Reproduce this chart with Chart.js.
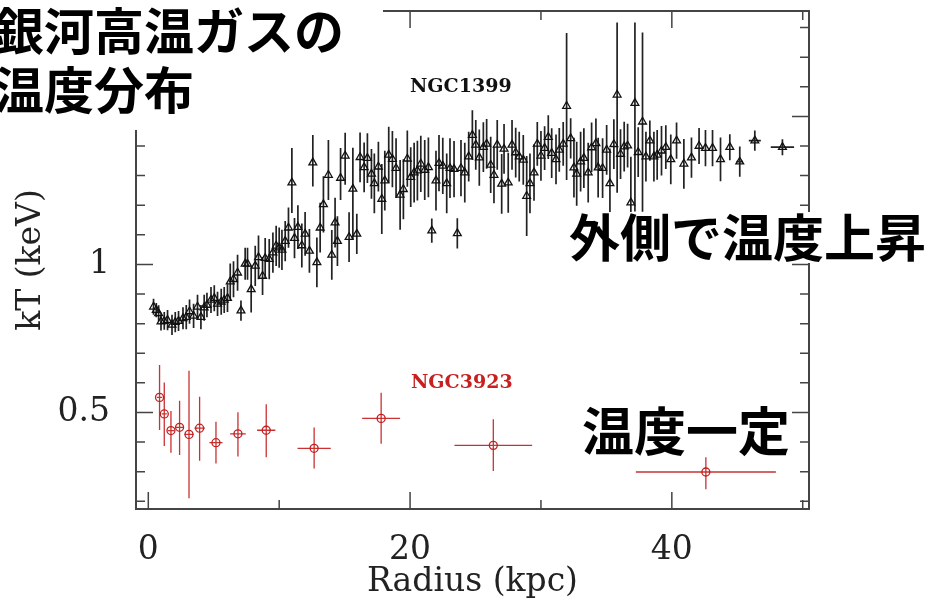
<!DOCTYPE html>
<html lang="ja">
<head>
<meta charset="utf-8">
<title>銀河高温ガスの温度分布</title>
<script src="https://cdn.jsdelivr.net/npm/chart.js@4.4.1/dist/chart.umd.min.js"></script>
<style>
  html, body { margin: 0; padding: 0; background: #fff; }
  #wrap { position: relative; width: 936px; height: 607px; }
</style>
</head>
<body>
<div id="wrap"><canvas id="chart"></canvas></div>
<script>
// NGC1399: radius (kpc), kT (keV), lower / upper errors (keV), radial half-width (kpc)
const radius1399 = [
  0.40, 0.61, 0.79, 0.97, 1.22, 1.47, 1.81, 2.06, 2.31, 2.65,
  2.90, 3.15, 3.46, 3.76, 4.02, 4.27, 4.48, 4.79, 5.04, 5.29,
  5.57, 5.80, 6.05, 6.26, 6.51, 6.82, 7.08, 7.40, 7.58, 7.86,
  8.17, 8.42, 8.73, 8.93, 9.24, 9.52, 9.77, 10.00, 10.21, 10.46,
  10.71, 10.97, 11.17, 11.43, 11.73, 11.98, 12.31, 12.57, 12.88, 13.13,
  13.38, 13.76, 14.02, 14.27, 14.45, 14.69, 15.04, 15.34, 15.63, 15.93,
  16.18, 16.49, 16.74, 17.05, 17.27, 17.58, 17.84, 18.07, 18.37, 18.65,
  18.93, 19.24, 19.49, 19.79, 20.05, 20.31, 20.56, 20.82, 21.12, 21.40,
  21.66, 21.98, 22.21, 22.50, 22.80, 23.05, 23.36, 23.61, 23.89, 24.18,
  24.48, 24.76, 25.02, 25.29, 25.60, 25.85, 26.16, 26.41, 26.66, 27.00,
  27.18, 27.50, 27.79, 28.07, 28.34, 28.65, 28.91, 29.16, 29.47, 29.72,
  30.00, 30.28, 30.56, 30.82, 31.15, 31.40, 31.70, 31.96, 32.27, 32.52,
  32.73, 33.03, 33.28, 33.61, 33.87, 34.20, 34.37, 34.71, 35.02, 35.27,
  35.57, 35.82, 36.08, 36.36, 36.62, 36.87, 37.18, 37.43, 37.76, 38.02,
  38.32, 38.63, 38.88, 39.21, 39.54, 39.92, 40.36, 40.92, 41.50, 42.08,
  42.57, 43.11, 43.72, 44.43, 45.19, 46.34, 48.45
];
const kT1399 = [
  0.857, 0.846, 0.835, 0.807, 0.809, 0.812, 0.796, 0.805, 0.809, 0.818,
  0.822, 0.841, 0.826, 0.857, 0.822, 0.854, 0.863, 0.880, 0.886, 0.867,
  0.874, 0.880, 0.886, 0.942, 0.950, 0.972, 0.844, 1.002, 1.002, 0.916,
  0.995, 1.024, 0.961, 1.021, 1.018, 1.040, 1.063, 1.057, 1.049, 1.079,
  1.124, 1.276, 1.089, 1.126, 1.064, 1.103, 1.046, 1.344, 1.007, 1.124,
  1.203, 1.302, 1.032, 1.141, 1.079, 1.292, 1.367, 1.092, 1.255, 1.103,
  1.362, 1.328, 1.359, 1.306, 1.274, 1.330, 1.221, 1.283, 1.370, 1.356,
  1.325, 1.235, 1.254, 1.357, 1.295, 1.310, 1.317, 1.340, 1.319, 1.328,
  1.114, 1.283, 1.342, 1.333, 1.274, 1.325, 1.322, 1.105, 1.325, 1.310,
  1.364, 1.437, 1.404, 1.361, 1.396, 1.407, 1.336, 1.302, 1.404, 1.272,
  1.390, 1.276, 1.404, 1.378, 1.364, 1.353, 1.231, 1.274, 1.310, 1.407,
  1.367, 1.393, 1.430, 1.376, 1.355, 1.387, 1.407, 1.535, 1.426, 1.327,
  1.306, 1.347, 1.359, 1.310, 1.395, 1.409, 1.327, 1.325, 1.387, 1.274,
  1.406, 1.573, 1.373, 1.398, 1.401, 1.209, 1.545, 1.379, 1.482, 1.364,
  1.418, 1.364, 1.370, 1.384, 1.396, 1.355, 1.418, 1.340, 1.361, 1.400,
  1.393, 1.393, 1.355, 1.396, 1.347, 1.418, 1.396
];
const errLo1399 = [
  0.027, 0.024, 0.027, 0.030, 0.030, 0.034, 0.034, 0.034, 0.034, 0.037,
  0.041, 0.041, 0.041, 0.041, 0.041, 0.044, 0.041, 0.044, 0.044, 0.041,
  0.044, 0.044, 0.047, 0.061, 0.061, 0.061, 0.034, 0.054, 0.054, 0.078,
  0.068, 0.074, 0.064, 0.068, 0.068, 0.068, 0.068, 0.068, 0.068, 0.068,
  0.068, 0.102, 0.068, 0.074, 0.074, 0.074, 0.074, 0.081, 0.084, 0.084,
  0.095, 0.084, 0.084, 0.084, 0.084, 0.074, 0.098, 0.084, 0.172, 0.068,
  0.084, 0.084, 0.084, 0.084, 0.101, 0.084, 0.118, 0.101, 0.095, 0.095,
  0.101, 0.118, 0.101, 0.095, 0.101, 0.101, 0.101, 0.095, 0.101, 0.101,
  0.041, 0.101, 0.095, 0.095, 0.101, 0.101, 0.095, 0.051, 0.095, 0.101,
  0.084, 0.084, 0.084, 0.095, 0.084, 0.084, 0.095, 0.095, 0.084, 0.101,
  0.084, 0.101, 0.084, 0.084, 0.084, 0.084, 0.135, 0.101, 0.095, 0.074,
  0.084, 0.074, 0.074, 0.084, 0.084, 0.074, 0.074, 0.250, 0.068, 0.101,
  0.108, 0.101, 0.101, 0.101, 0.084, 0.084, 0.101, 0.101, 0.084, 0.118,
  0.084, 0.331, 0.084, 0.084, 0.074, 0.060, 0.366, 0.084, 0.304, 0.084,
  0.068, 0.084, 0.084, 0.084, 0.074, 0.084, 0.061, 0.084, 0.068, 0.061,
  0.061, 0.061, 0.074, 0.044, 0.051, 0.034, 0.027
];
const errHi1399 = [
  0.027, 0.024, 0.027, 0.030, 0.030, 0.034, 0.034, 0.034, 0.034, 0.037,
  0.041, 0.041, 0.041, 0.041, 0.041, 0.044, 0.041, 0.044, 0.044, 0.041,
  0.044, 0.044, 0.047, 0.061, 0.061, 0.061, 0.034, 0.054, 0.054, 0.078,
  0.068, 0.074, 0.064, 0.068, 0.068, 0.068, 0.068, 0.068, 0.068, 0.068,
  0.068, 0.117, 0.068, 0.074, 0.074, 0.074, 0.074, 0.093, 0.084, 0.084,
  0.095, 0.118, 0.084, 0.084, 0.084, 0.101, 0.078, 0.084, 0.139, 0.068,
  0.084, 0.084, 0.084, 0.084, 0.101, 0.084, 0.118, 0.101, 0.095, 0.095,
  0.101, 0.118, 0.101, 0.095, 0.101, 0.101, 0.101, 0.095, 0.101, 0.101,
  0.041, 0.101, 0.095, 0.095, 0.101, 0.101, 0.095, 0.051, 0.095, 0.101,
  0.084, 0.084, 0.084, 0.095, 0.084, 0.084, 0.095, 0.095, 0.084, 0.101,
  0.084, 0.101, 0.084, 0.084, 0.084, 0.084, 0.135, 0.101, 0.095, 0.074,
  0.084, 0.074, 0.074, 0.084, 0.084, 0.074, 0.074, 0.247, 0.068, 0.101,
  0.108, 0.101, 0.101, 0.101, 0.084, 0.084, 0.101, 0.101, 0.084, 0.118,
  0.084, 0.244, 0.084, 0.084, 0.074, 0.155, 0.272, 0.084, 0.301, 0.084,
  0.068, 0.084, 0.084, 0.084, 0.074, 0.084, 0.061, 0.084, 0.068, 0.061,
  0.061, 0.061, 0.074, 0.044, 0.051, 0.034, 0.027
];
const xErr1399 = [
  0, 0, 0, 0, 0, 0, 0, 0, 0, 0,  0, 0, 0, 0, 0, 0, 0, 0, 0, 0,
  0, 0, 0, 0, 0, 0, 0, 0, 0, 0,  0, 0, 0, 0, 0, 0, 0, 0, 0, 0,
  0, 0, 0, 0, 0, 0, 0, 0, 0, 0,  0, 0, 0, 0, 0, 0, 0, 0, 0, 0,
  0, 0, 0, 0, 0, 0, 0, 0, 0, 0,  0, 0, 0, 0, 0, 0, 0, 0, 0, 0,
  0, 0, 0, 0, 0, 0, 0, 0, 0, 0,  0, 0, 0, 0, 0, 0, 0, 0, 0, 0,
  0, 0, 0, 0, 0, 0, 0, 0, 0, 0,  0, 0, 0, 0, 0, 0, 0, 0, 0, 0,
  0, 0, 0, 0, 0, 0, 0, 0, 0, 0,  0, 0, 0, 0, 0, 0, 0, 0, 0, 0,
  0, 0, 0, 0, 0, 0, 0, 0, 0, 0,
  0, 0, 0, 0, 0.25, 0.46, 0.89
];

// NGC3923
const radius3923 = [0.86, 1.22, 1.73, 2.39, 3.11, 3.92, 5.17, 6.85, 9.01, 12.67, 17.79, 26.36, 42.6];
const kT3923     = [0.551, 0.495, 0.439, 0.450, 0.426, 0.447, 0.398, 0.428, 0.440, 0.379, 0.480, 0.389, 0.299];
const errLo3923  = [0.110, 0.108, 0.075, 0.094, 0.216, 0.110, 0.070, 0.077, 0.091, 0.068, 0.086, 0.087, 0.058];
const errHi3923  = [0.109, 0.106, 0.066, 0.090, 0.215, 0.106, 0.071, 0.073, 0.088, 0.070, 0.087, 0.088, 0.050];
const xErr3923   = [0.2, 0.2, 0.25, 0.3, 0.35, 0.4, 0.5, 0.6, 0.7, 1.27, 1.45, 2.97, 5.35];

// axis ticks
const xLabelTicks = [0, 20, 40];
const xMinorTicks = [10, 30, 50];
const yLabelTicks = [0.5, 1];
const yMajorTicks = [0.5, 1, 1.5];
const yMinorTicks = [0.2, 0.3, 0.4, 0.6, 0.7, 0.8, 0.9, 1.1, 1.2, 1.3, 1.4, 1.6, 1.7, 1.8];

const serif = '"DejaVu Serif", serif';
const jp = '"Noto Sans CJK JP", sans-serif';

function toPoints(xs, ys) {
  return xs.map((x, i) => ({ x: x, y: ys[i] }));
}

// vertical / horizontal error bars drawn through the scales
const errorBars = {
  id: 'errorBars',
  beforeDatasetsDraw(chart) {
    const ctx = chart.ctx;
    const xs = chart.scales.x, ys = chart.scales.y;
    chart.data.datasets.forEach((ds) => {
      ctx.save();
      ctx.strokeStyle = ds.barColor;
      ctx.lineWidth = ds.barWidth;
      ctx.beginPath();
      ds.data.forEach((p, i) => {
        const px = xs.getPixelForValue(p.x);
        const py = ys.getPixelForValue(p.y);
        ctx.moveTo(px, ys.getPixelForValue(p.y - ds.errLo[i]));
        ctx.lineTo(px, ys.getPixelForValue(p.y + ds.errHi[i]));
        if (ds.xErr[i] > 0) {
          ctx.moveTo(xs.getPixelForValue(p.x - ds.xErr[i]), py);
          ctx.lineTo(xs.getPixelForValue(p.x + ds.xErr[i]), py);
        }
      });
      ctx.stroke();
      ctx.restore();
    });
  }
};

// box frame with inward ticks on all four sides
const frame = {
  id: 'frame',
  beforeDatasetsDraw(chart) {
    const { ctx, chartArea: a } = chart;
    const xs = chart.scales.x, ys = chart.scales.y;
    ctx.save();
    ctx.strokeStyle = '#444';
    ctx.lineWidth = 2;
    ctx.strokeRect(a.left, a.top, a.right - a.left, a.bottom - a.top);
    ctx.lineWidth = 1.5;
    ctx.beginPath();
    const xt = (v, len) => {
      const px = xs.getPixelForValue(v);
      ctx.moveTo(px, a.bottom); ctx.lineTo(px, a.bottom - len);
      ctx.moveTo(px, a.top); ctx.lineTo(px, a.top + len);
    };
    const yt = (v, len) => {
      const py = ys.getPixelForValue(v);
      ctx.moveTo(a.left, py); ctx.lineTo(a.left + len, py);
      ctx.moveTo(a.right, py); ctx.lineTo(a.right - len, py);
    };
    xLabelTicks.forEach(v => xt(v, 17));
    xMinorTicks.forEach(v => xt(v, 9));
    yMajorTicks.forEach(v => yt(v, 17));
    yMinorTicks.forEach(v => yt(v, 9));
    ctx.stroke();
    ctx.restore();
  }
};

// galaxy names and the Japanese captions
const captions = {
  id: 'captions',
  afterDraw(chart) {
    const ctx = chart.ctx;
    ctx.save();
    ctx.fillStyle = '#fff';
    ctx.fillRect(0, 0, 383, 130);
    ctx.fillRect(565, 212, 371, 51);
    ctx.textBaseline = 'middle';
    ctx.textAlign = 'left';
    ctx.fillStyle = '#111';
    ctx.font = 'bold 19px ' + serif;
    ctx.fillText('NGC1399', 410, 87);
    ctx.fillStyle = '#c82020';
    ctx.fillText('NGC3923', 411, 383);
    ctx.fillStyle = '#000';
    ctx.font = 'bold 50px ' + jp;
    ctx.fillText('銀河高温ガスの', -6, 31);
    ctx.fillText('温度分布', -6, 90);
    ctx.font = 'bold 51px ' + jp;
    ctx.fillText('外側で温度上昇', 569, 238);
    ctx.font = 'bold 52px ' + jp;
    ctx.fillText('温度一定', 582, 431);
    ctx.restore();
  }
};

new Chart(document.getElementById('chart'), {
  type: 'scatter',
  data: {
    datasets: [
      {
        label: 'NGC1399',
        data: toPoints(radius1399, kT1399),
        errLo: errLo1399,
        errHi: errHi1399,
        xErr: xErr1399,
        barColor: '#222',
        barWidth: 1.7,
        pointStyle: 'triangle',
        pointRadius: 4.5,
        borderColor: '#111',
        backgroundColor: 'rgba(255,255,255,0)',
        borderWidth: 1.3
      },
      {
        label: 'NGC3923',
        data: toPoints(radius3923, kT3923),
        errLo: errLo3923,
        errHi: errHi3923,
        xErr: xErr3923,
        barColor: '#c83232',
        barWidth: 1.3,
        pointStyle: 'circle',
        pointRadius: 4,
        borderColor: '#c02020',
        backgroundColor: 'rgba(255,255,255,0)',
        borderWidth: 1.3
      }
    ]
  },
  options: {
    responsive: true,
    maintainAspectRatio: false,
    animation: false,
    layout: { padding: { top: 11, right: 127, left: 0, bottom: 0 } },
    plugins: {
      legend: { display: false },
      tooltip: { enabled: false }
    },
    scales: {
      x: {
        type: 'linear',
        min: -0.94,
        max: 50.48,
        border: { display: false },
        grid: { display: false, drawTicks: false },
        afterBuildTicks: s => { s.ticks = xLabelTicks.map(v => ({ value: v })); },
        afterFit: s => { s.height = 98; s.paddingLeft = 0; s.paddingRight = 0; },
        ticks: {
          color: '#222',
          font: { family: serif, size: 33 },
          padding: 22,
          maxRotation: 0,
          autoSkip: false,
          callback: v => String(v)
        },
        title: {
          display: true,
          text: 'Radius (kpc)',
          color: '#222',
          font: { family: serif, size: 33 },
          padding: { top: 0, bottom: 5 }
        }
      },
      y: {
        type: 'linear',
        min: 0.174,
        max: 1.856,
        border: { display: false },
        grid: { display: false, drawTicks: false },
        afterBuildTicks: s => { s.ticks = yLabelTicks.map(v => ({ value: v })); },
        afterFit: s => { s.width = 136; s.paddingTop = 0; s.paddingBottom = 0; },
        ticks: {
          color: '#222',
          font: { family: serif, size: 33 },
          padding: 26,
          callback: v => String(v)
        },
        title: {
          display: true,
          text: 'kT (keV)',
          color: '#222',
          font: { family: serif, size: 33 },
          padding: { top: 12, bottom: 0 }
        }
      }
    }
  },
  plugins: [frame, errorBars, captions]
});
</script>
</body>
</html>
